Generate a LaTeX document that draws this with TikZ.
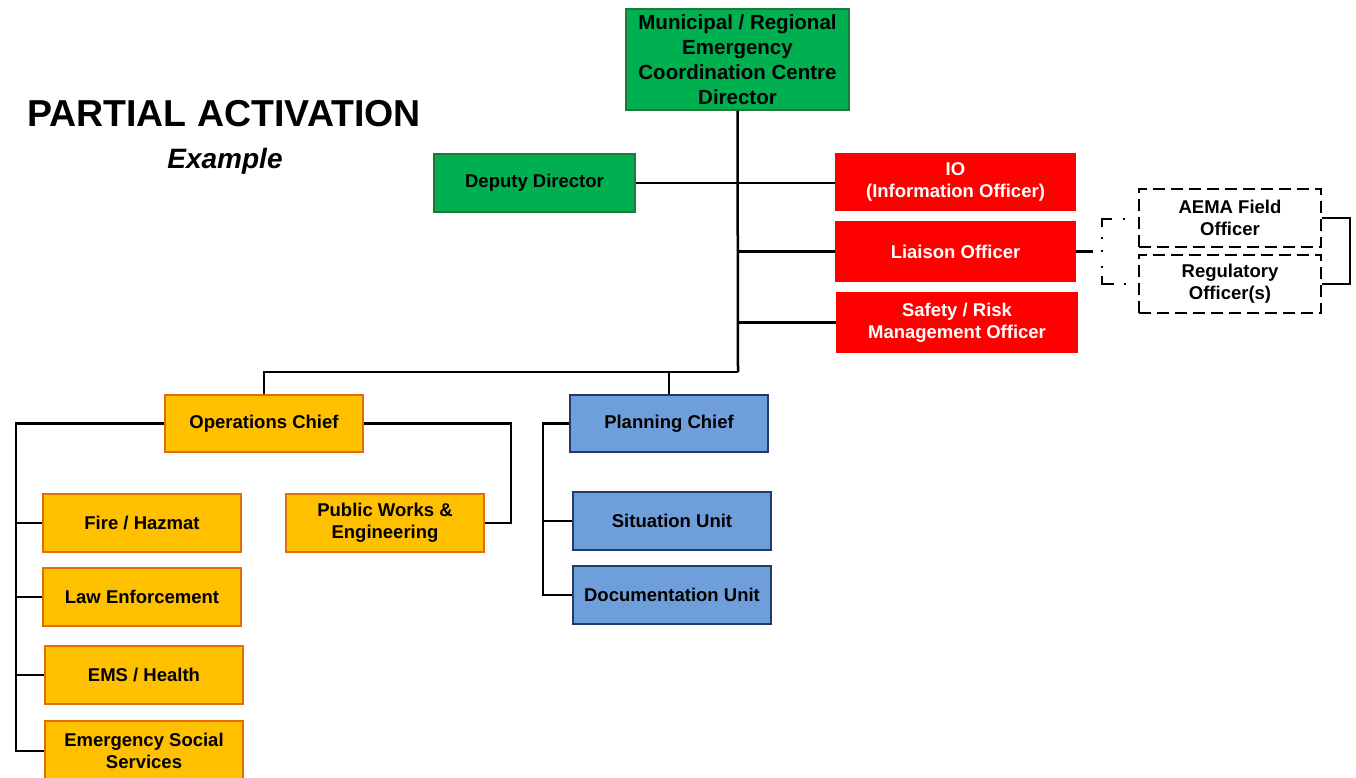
\documentclass[tikz,border=0pt]{standalone}
\usepackage{fontspec}
\setmainfont{Liberation Sans}
\definecolor{dirgreen}{HTML}{00B050}
\definecolor{dirgreenline}{HTML}{1F7A35}
\definecolor{opsfill}{HTML}{FFC000}
\definecolor{opsline}{HTML}{E46C0A}
\definecolor{planfill}{HTML}{6F9FDB}
\definecolor{planline}{HTML}{1F3C6A}
\definecolor{staffred}{HTML}{FF0000}
\newcommand{\boxfont}{\fontsize{18.5}{22}\selectfont\bfseries}
\begin{document}
\begin{tikzpicture}[x=1pt,y=-1pt,
  box/.style={draw, line width=2pt, inner sep=0pt, align=center, font=\boxfont,
              minimum width=198pt, minimum height=58pt},
  greenbox/.style={box, fill=dirgreen, draw=dirgreenline},
  opsbox/.style={box, fill=opsfill, draw=opsline},
  planbox/.style={box, fill=planfill, draw=planline},
  redbox/.style={box, fill=staffred, draw=staffred, text=white, minimum width=239pt},
  dashbox/.style={box, fill=white, draw=black, dash pattern=on 12pt off 6pt, minimum width=182pt},
  wire/.style={line width=2.5pt, black},
  thinwire/.style={line width=1.2pt, black}]
\useasboundingbox (0,0) rectangle (1356,778);

% title
\node[font=\fontsize{37.5}{40}\selectfont\bfseries] (title) at (224,114) {PARTIAL ACTIVATION};
\node[font=\fontsize{28}{30}\selectfont\bfseries\itshape] (subtitle) at (225,161) {Example};

% command staff
\node[greenbox, minimum width=223pt, minimum height=101pt,
      font=\fontsize{20.5}{25}\selectfont\bfseries] (dir) at (737.5,59.5)
  {Municipal / Regional\\Emergency\\Coordination Centre\\Director};
\node[greenbox, minimum width=201pt] (dep) at (534.5,183) {Deputy Director};
\node[redbox, minimum height=56pt] (io) at (955.5,182) {IO\\(Information Officer)};
\node[redbox, minimum height=59pt] (lia) at (955.5,251.5) {Liaison Officer};
\node[redbox, minimum height=59pt, minimum width=240pt] (saf) at (957,322.5) {Safety / Risk\\Management Officer};
\node[dashbox] (aema) at (1230,218) {AEMA Field\\Officer};
\node[dashbox] (reg) at (1230,284) {Regulatory\\Officer(s)};

% sections
\node[opsbox, minimum height=57pt] (ops) at (264,423.5) {Operations Chief};
\node[planbox, minimum height=57pt] (plan) at (669,423.5) {Planning Chief};
\node[planbox] (sit) at (672,521) {Situation Unit};
\node[planbox] (doc) at (672,595) {Documentation Unit};
\node[opsbox] (fire) at (142,523) {Fire / Hazmat};
\node[opsbox] (law) at (142,597) {Law Enforcement};
\node[opsbox] (ems) at (144,675) {EMS / Health};
\node[opsbox, minimum height=60pt] (ess) at (144,751) {Emergency Social\\Services};
\node[opsbox] (pw) at (385,523) {Public Works \&\\Engineering};

% connector helpers
\coordinate (j) at (738,372);
\coordinate (ol) at (16,0);
\coordinate (pr) at (511,0);
\coordinate (pl) at (543,0);
\coordinate (lend) at (1093,251.5);

% spine and staff links
\draw[wire] (dir.south) -- (j);
\draw[wire] (dep.east) -- (dep.east -| io.west);
\draw[wire] (dir.south |- lia.west) -- (lia.west);
\draw[wire] (dir.south |- saf.west) -- (saf.west);
\draw[wire] (lia.east) -- (lend);

% general staff bus
\draw[wire] (ops.north) |- (j);
\draw[wire] (plan.north) -- (plan.north |- j);

% operations branches
\draw[wire] (ops.west) -| (ol |- ess.west) -- (ess.west);
\draw[wire] (ol |- fire.west) -- (fire.west);
\draw[wire] (ol |- law.west) -- (law.west);
\draw[wire] (ol |- ems.west) -- (ems.west);
\draw[wire] (ops.east) -| (pr |- pw.east) -- (pw.east);

% planning branches
\draw[wire] (plan.west) -| (pl |- doc.west) -- (doc.west);
\draw[wire] (pl |- sit.west) -- (sit.west);

% external liaison group
\draw[line width=2pt, dash pattern=on 0pt off 13pt on 2pt off 11pt on 18pt off 10pt on 2pt off 11pt on 2pt off 14pt on 2pt off 8pt on 20pt off 10pt on 2pt off 30pt]
  (aema.west |- 0,219) -- (1102,219) -- (1102,284) -- (reg.west |- 0,284);
\draw[thinwire] (aema.east) -- ++(28,0) |- (reg.east);
\end{tikzpicture}
\end{document}
